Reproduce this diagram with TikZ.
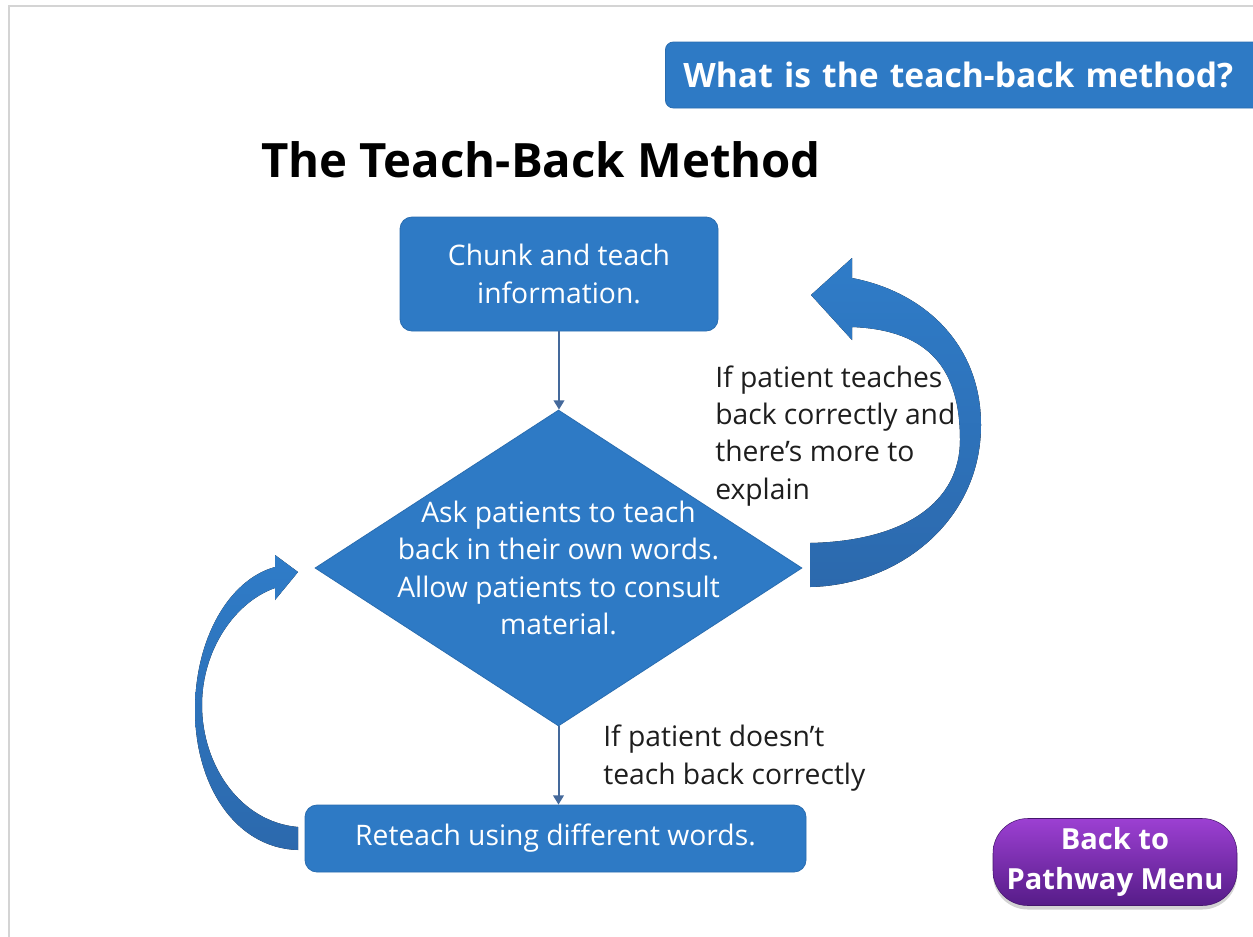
\documentclass[tikz,border=0pt]{standalone}
\usepackage{fontspec}
\setmainfont{Open Sans}
\usetikzlibrary{shapes.geometric,arrows.meta,shadows}

\definecolor{boxblue}{HTML}{2E7AC5}
\definecolor{boxedge}{HTML}{2A6DB0}
\definecolor{connblue}{HTML}{44699B}
\definecolor{arrowtop}{HTML}{2F7CC8}
\definecolor{arrowbot}{HTML}{2C69AD}
\definecolor{btntop}{HTML}{9C40D2}
\definecolor{btnbot}{HTML}{561C88}
\definecolor{framegray}{HTML}{D4D4D4}
\definecolor{labeltext}{HTML}{1E1E1E}

\tikzset{
  px/.style={x=0.75pt,y=-0.75pt},
  stepbox/.style={draw=boxedge, line width=0.6pt, fill=boxblue, text=white,
    rounded corners=9pt, align=center, inner sep=0pt,
    font=\fontsize{21.2}{28}\selectfont},
  decision/.style={diamond, fill=boxblue, draw=boxedge, line width=0.6pt,
    inner sep=0pt, minimum width=487*0.75pt, minimum height=316*0.75pt},
  bodytext/.style={text=white, align=center, inner sep=0pt,
    font=\fontsize{21.2}{28}\selectfont},
  note/.style={text=labeltext, align=left, inner sep=0pt, anchor=base west,
    font=\fontsize{21.2}{28}\selectfont},
  conn/.style={draw=connblue, line width=1.5pt,
    -{Triangle[width=8pt,length=7pt]}},
  bigarrow/.style={top color=arrowtop, bottom color=arrowbot},
}

\begin{document}
\begin{tikzpicture}[px]
\useasboundingbox (0,0) rectangle (1253,936);
\clip (0,0) rectangle (1253,936);

% page frame
\draw[framegray, line width=1.5pt] (8.5,940) -- (8.5,6) -- (1260,6);

% header tab
\node[fill=boxblue, draw=boxedge, line width=0.6pt, rounded corners=6pt,
      anchor=west, minimum width=640*0.75pt, minimum height=66*0.75pt,
      text width=640*0.75pt, align=left, inner sep=0pt, text=white,
      font=\fontsize{25.2}{30}\selectfont\bfseries] (hdr) at (665,75)
      {\hspace*{13.5pt}What is the teach-back method?};

% title
\node[font=\fontsize{35.5}{42}\selectfont\bfseries, inner sep=0pt] (title) at (541,160)
  {The Teach-Back Method};

% flow nodes
\node[stepbox, minimum width=318*0.75pt, minimum height=114*0.75pt] (c1) at (559,274)
  {Chunk and teach\\information.};
\node[decision] (d) at (558.5,568) {};
\node[bodytext] (dt) at (d.center)
  {Ask patients to teach\\back in their own words.\\Allow patients to consult\\material.};
\node[stepbox, minimum width=501*0.75pt, minimum height=67*0.75pt] (c3) at (555.5,838.5)
  {Reteach using different words.};

% straight connectors
\draw[conn] (c1.south) -- (c1.south |- d.north);
\draw[conn] (d.south) -- (d.south |- c3.north);

% curved block arrow: back to the first step
\fill[bigarrow] (810,587) .. controls (900,585) and (981,520) .. (981,425)
  .. controls (981,345) and (925,292) .. (852,278)
  -- (852,258) -- (811,295) -- (852,340) -- (852,327)
  .. controls (930,330) and (960,370) .. (960,440)
  .. controls (960,502) and (905,541) .. (810,543) -- cycle;

% curved block arrow: back to the decision
\fill[bigarrow] (298,850) .. controls (235,848) and (195,785) .. (195,710)
  .. controls (195,640) and (228,580) .. (275,567)
  -- (275,555) -- (298,572) -- (275,600) -- (275,588)
  .. controls (235,602) and (202,650) .. (202,705)
  .. controls (202,765) and (240,822) .. (298,827) -- cycle;

% branch notes (anchored on the baseline of their last line)
\node[note] (n1) at (715,499)
  {If patient teaches\\back correctly and\\there’s more to\\explain};
\node[note] (n2) at (603,784)
  {If patient doesn’t\\teach back correctly};

% menu button
\node[minimum width=244*0.75pt, minimum height=87*0.75pt, rounded corners=26pt,
      top color=btntop, bottom color=btnbot, draw=btnbot!80!black, line width=0.4pt,
      drop shadow={shadow xshift=0pt, shadow yshift=-3pt, opacity=0.35},
      text=white, align=center, inner sep=0pt,
      font=\fontsize{21.8}{30}\selectfont\bfseries] (menu) at (1115,862)
  {Back to\\Pathway Menu};
\end{tikzpicture}
\end{document}
